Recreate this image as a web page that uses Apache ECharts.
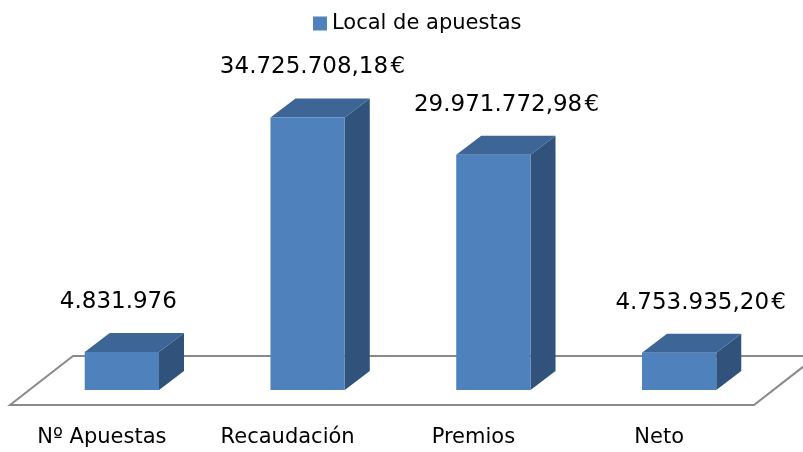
<!DOCTYPE html>
<html>
<head>
<meta charset="utf-8">
<script src="https://cdn.jsdelivr.net/npm/echarts@6/dist/echarts.min.js"></script>
<style>
  html, body { margin: 0; padding: 0; background: #fff; }
  #chart { width: 803px; height: 452px; }
</style>
</head>
<body>
<div id="chart"></div>
<script>
  var categories = ['Nº Apuestas', 'Recaudación', 'Premios', 'Neto'];
  var values = [4831976, 34725708.18, 29971772.98, 4753935.20];
  var decimals = [0, 2, 2, 2];
  var units = ['', '€', '€', '€'];
  var seriesName = 'Local de apuestas';

  var FRONT = '#4F81BD';
  var TOP = '#3D6595';
  var SIDE = '#30527B';
  var DEPTH_X = 25, DEPTH_Y = -19;
  var FONT = '"DejaVu Sans"';

  function fmt(v, dec, unit) {
    var parts = v.toFixed(dec).split('.');
    var intPart = parts[0].replace(/\B(?=(\d{3})+(?!\d))/g, '.');
    var s = intPart + (parts[1] ? ',' + parts[1] : '');
    return unit ? s + '\u200A' + unit : s;
  }

  var chart = echarts.init(document.getElementById('chart'));

  function renderBar(params, api) {
    var idx = params.dataIndex;
    var base = api.coord([api.value(0), 0]);
    var top = api.coord([api.value(0), api.value(1)]);
    var w = api.size([1, 0])[0] * 0.4;
    var x0 = base[0] - w / 2, x1 = base[0] + w / 2;
    var yb = base[1], yt = top[1];
    // labels drift right with the perspective
    var shift = (base[0] - 400) * 0.045 + 9;
    return {
      type: 'group',
      children: [
        { type: 'polygon', shape: { points: [[x1, yb], [x1 + DEPTH_X, yb + DEPTH_Y], [x1 + DEPTH_X, yt + DEPTH_Y], [x1, yt]] },
          style: { fill: SIDE } },
        { type: 'polygon', shape: { points: [[x0, yt], [x0 + DEPTH_X, yt + DEPTH_Y], [x1 + DEPTH_X, yt + DEPTH_Y], [x1, yt]] },
          style: { fill: TOP } },
        { type: 'rect', shape: { x: x0, y: yt, width: w, height: yb - yt },
          style: { fill: FRONT } },
        { type: 'text', x: base[0] + shift, y: yt - 50,
          style: { text: fmt(values[idx], decimals[idx], units[idx]), fill: '#000',
            font: '23px ' + FONT, align: 'center', verticalAlign: 'middle' } }
      ]
    };
  }

  chart.setOption({
    animation: false,
    legend: {
      top: 8,
      left: 308,
      itemWidth: 14,
      itemHeight: 14,
      itemGap: 5,
      textStyle: { fontFamily: FONT, fontSize: 21, color: '#000' },
      data: [{ name: seriesName, icon: 'rect', itemStyle: { color: FRONT } }]
    },
    grid: { left: 29, right: 31, top: 76, bottom: 62 },
    xAxis: {
      type: 'category',
      data: categories,
      axisLine: { show: false },
      axisTick: { show: false },
      axisLabel: { margin: 37, padding: [0, 40, 0, 0], fontFamily: FONT, fontSize: 21, color: '#000' }
    },
    yAxis: {
      type: 'value',
      min: 0,
      max: 40000000,
      show: false
    },
    graphic: [{
      type: 'polygon',
      z: 0,
      shape: { points: [[10, 405], [73, 356], [817, 356], [754, 405]] },
      style: { fill: 'none', stroke: '#8a8a8a', lineWidth: 2 }
    }],
    series: [{
      name: seriesName,
      type: 'custom',
      z: 10,
      itemStyle: { color: FRONT },
      renderItem: renderBar,
      data: values.map(function (v, i) { return [i, v]; })
    }]
  });
</script>
</body>
</html>
